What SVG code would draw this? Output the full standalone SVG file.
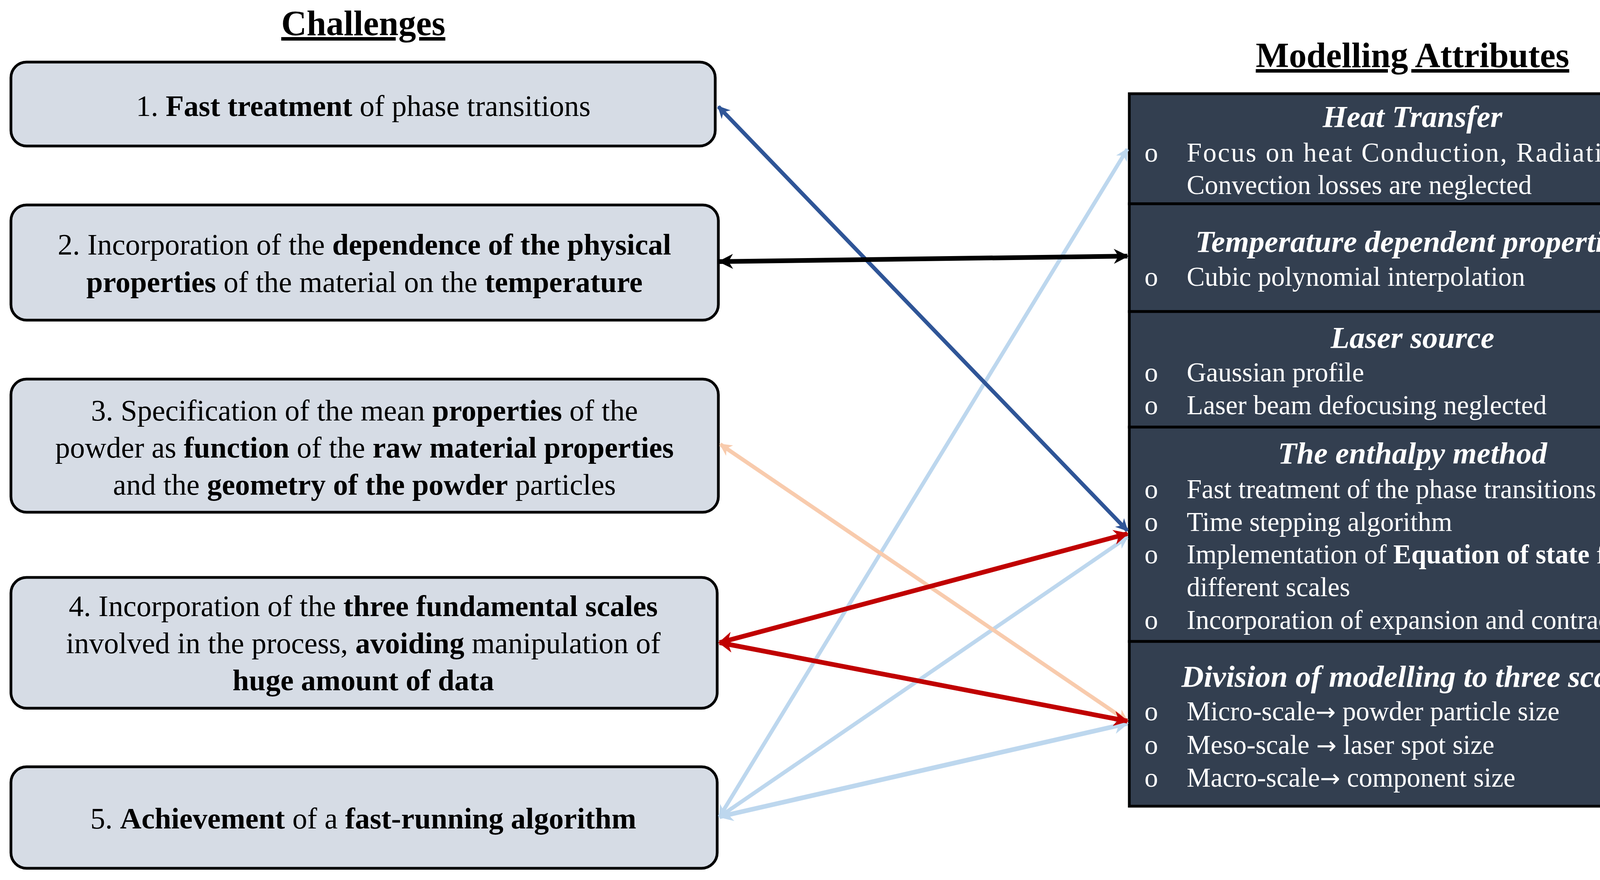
<svg xmlns="http://www.w3.org/2000/svg" width="4366" height="2254" viewBox="0 0 4366 2254">
<style>
.t{font-family:"Liberation Serif","Times New Roman",serif;}
.cb{fill:#d6dce5;stroke:#000;stroke-width:7}
.ct{font-size:76px;fill:#000;text-anchor:middle}
.b{font-weight:bold}
.ttl{font-size:90px;font-weight:bold;text-decoration:underline;text-anchor:middle}
.pn{fill:#333f50;stroke:#000;stroke-width:7}
.h{font-size:79px;font-weight:bold;font-style:italic;fill:#fff;text-anchor:middle}
.r{font-size:69px;fill:#fff}
.ar{font-family:"DejaVu Sans",sans-serif;font-size:62px}
.c{fill:none}
</style>
<defs>
<marker id="ah" viewBox="0 0 10 10" refX="9" refY="5" markerWidth="3.2" markerHeight="3.2" orient="auto-start-reverse" markerUnits="strokeWidth"><path d="M0,0 L10,5 L0,10 L3,5 z" fill="context-stroke"/></marker>
</defs>
<text class="t ttl" x="930" y="90">Challenges</text>
<text class="t ttl" x="3616" y="172">Modelling Attributes</text>

<g id="c1"><rect class="cb" x="28" y="159" width="1803" height="215" rx="40"/>
<text class="t ct" x="930" y="297">1. <tspan class="b">Fast treatment</tspan> of phase transitions</text></g>
<g id="c2"><rect class="cb" x="28" y="525" width="1811" height="295" rx="40"/>
<text class="t ct" x="933" y="652">2. Incorporation of the <tspan class="b">dependence of the physical</tspan></text>
<text class="t ct" x="933" y="748"><tspan class="b">properties</tspan> of the material on the <tspan class="b">temperature</tspan></text></g>
<g id="c3"><rect class="cb" x="28" y="971" width="1811" height="341" rx="40"/>
<text class="t ct" x="933" y="1077">3. Specification of the mean <tspan class="b">properties</tspan> of the</text>
<text class="t ct" x="933" y="1172">powder as <tspan class="b">function</tspan> of the <tspan class="b">raw material properties</tspan></text>
<text class="t ct" x="933" y="1267">and the <tspan class="b">geometry of the powder</tspan> particles</text></g>
<g id="c4"><rect class="cb" x="28" y="1479" width="1808" height="335" rx="40"/>
<text class="t ct" x="930" y="1578">4. Incorporation of the <tspan class="b">three fundamental scales</tspan></text>
<text class="t ct" x="930" y="1673">involved in the process, <tspan class="b">avoiding</tspan> manipulation of</text>
<text class="t ct" x="930" y="1768"><tspan class="b">huge amount of data</tspan></text></g>
<g id="c5"><rect class="cb" x="28" y="1964" width="1808" height="260" rx="40"/>
<text class="t ct" x="930" y="2122">5. <tspan class="b">Achievement</tspan> of a <tspan class="b">fast-running algorithm</tspan></text></g>

<g id="m1"><rect class="pn" x="2891" y="240" width="1425" height="282"/>
<text class="t h" x="3616" y="325">Heat Transfer</text>
<text class="t r" x="2930" y="414">o</text><text class="t r" x="3038" y="414" textLength="1269" lengthAdjust="spacing">Focus on heat Conduction, Radiation and</text>
<text class="t r" x="3038" y="497">Convection losses are neglected</text></g>
<g id="m2"><rect class="pn" x="2891" y="522" width="1425" height="276"/>
<text class="t h" x="3616" y="645">Temperature dependent properties</text>
<text class="t r" x="2930" y="732">o</text><text class="t r" x="3038" y="732">Cubic polynomial interpolation</text></g>
<g id="m3"><rect class="pn" x="2891" y="798" width="1425" height="296"/>
<text class="t h" x="3616" y="891">Laser source</text>
<text class="t r" x="2930" y="977">o</text><text class="t r" x="3038" y="977">Gaussian profile</text>
<text class="t r" x="2930" y="1061">o</text><text class="t r" x="3038" y="1061">Laser beam defocusing neglected</text></g>
<g id="m4"><rect class="pn" x="2891" y="1094" width="1425" height="549"/>
<text class="t h" x="3616" y="1187">The enthalpy method</text>
<text class="t r" x="2930" y="1276">o</text><text class="t r" x="3038" y="1276">Fast treatment of the phase transitions</text>
<text class="t r" x="2930" y="1360">o</text><text class="t r" x="3038" y="1360">Time stepping algorithm</text>
<text class="t r" x="2930" y="1443">o</text><text class="t r" x="3038" y="1443">Implementation of <tspan class="b">Equation of state</tspan> for the</text>
<text class="t r" x="3038" y="1527">different scales</text>
<text class="t r" x="2930" y="1611">o</text><text class="t r" x="3038" y="1611">Incorporation of expansion and contractions</text></g>
<g id="m5"><rect class="pn" x="2891" y="1643" width="1425" height="422"/>
<text class="t h" x="3616" y="1759">Division of modelling to three scales</text>
<text class="t r" x="2930" y="1845">o</text><text class="t r" x="3038" y="1845">Micro-scale<tspan class="ar">→</tspan> powder particle size</text>
<text class="t r" x="2930" y="1931">o</text><text class="t r" x="3038" y="1931">Meso-scale <tspan class="ar">→</tspan> laser spot size</text>
<text class="t r" x="2930" y="2015">o</text><text class="t r" x="3038" y="2015">Macro-scale<tspan class="ar">→</tspan> component size</text></g>

<g id="connectors" class="c">
<line x1="1842" y1="2092" x2="2886" y2="382" stroke="#bdd7ee" stroke-width="10" marker-start="url(#ah)" marker-end="url(#ah)"/>
<line x1="1842" y1="2092" x2="2886" y2="1376" stroke="#bdd7ee" stroke-width="10" marker-start="url(#ah)" marker-end="url(#ah)"/>
<line x1="1842" y1="2092" x2="2886" y2="1853" stroke="#bdd7ee" stroke-width="12" marker-start="url(#ah)" marker-end="url(#ah)"/>
<line x1="1844" y1="1138" x2="2886" y2="1847" stroke="#f8cbad" stroke-width="10" marker-start="url(#ah)" marker-end="url(#ah)"/>
<line x1="1842" y1="1646" x2="2886" y2="1367" stroke="#c00000" stroke-width="12" marker-start="url(#ah)" marker-end="url(#ah)"/>
<line x1="1842" y1="1646" x2="2886" y2="1847" stroke="#c00000" stroke-width="12" marker-start="url(#ah)" marker-end="url(#ah)"/>
<line x1="1839" y1="273" x2="2886" y2="1359" stroke="#2f5597" stroke-width="10" marker-start="url(#ah)" marker-end="url(#ah)"/>
<line x1="1842" y1="670" x2="2886" y2="656" stroke="#000" stroke-width="12" marker-start="url(#ah)" marker-end="url(#ah)"/>
</g>
</svg>
